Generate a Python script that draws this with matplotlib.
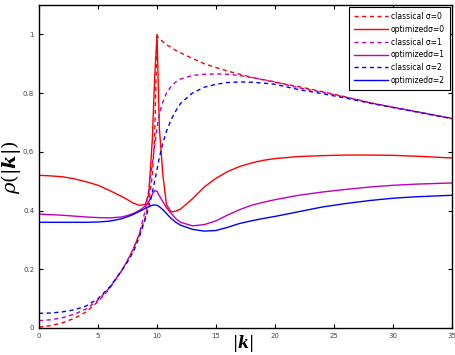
import matplotlib
matplotlib.use('Agg')
import matplotlib.pyplot as plt
from matplotlib.ticker import FormatStrFormatter

plt.rcParams['mathtext.fontset'] = 'dejavuserif'

# |k| sample points shared by all curves
k = [0, 1, 2, 3, 4, 5, 6, 7, 7.5, 8, 8.5, 9, 9.3, 9.6, 9.8, 10, 10.2, 10.5,
     10.8, 11.2, 11.6, 12, 13, 14, 15, 16, 17, 18, 19, 20, 22, 24, 26, 28,
     30, 32, 35]

classical_s0 = [0.003, 0.008, 0.018, 0.033, 0.055, 0.09, 0.135, 0.195, 0.23,
                0.27, 0.32, 0.375, 0.43, 0.52, 0.65, 0.995, 0.985, 0.975,
                0.965, 0.955, 0.945, 0.937, 0.918, 0.90, 0.887, 0.875, 0.864,
                0.854, 0.845, 0.837, 0.822, 0.805, 0.787, 0.768, 0.752, 0.737,
                0.714]
optimized_s0 = [0.52, 0.518, 0.515, 0.508, 0.498, 0.486, 0.468, 0.448, 0.437,
                0.425, 0.418, 0.42, 0.455, 0.64, 0.85, 1.0, 0.68, 0.52, 0.42,
                0.395, 0.398, 0.405, 0.44, 0.48, 0.51, 0.533, 0.55, 0.562,
                0.571, 0.577, 0.584, 0.587, 0.589, 0.589, 0.588, 0.585, 0.579]
classical_s1 = [0.025, 0.028, 0.035, 0.047, 0.065, 0.095, 0.138, 0.195, 0.23,
                0.27, 0.32, 0.40, 0.47, 0.56, 0.62, 0.68, 0.73, 0.77, 0.80,
                0.823, 0.838, 0.848, 0.86, 0.864, 0.865, 0.864, 0.86, 0.853,
                0.846, 0.838, 0.818, 0.803, 0.786, 0.767, 0.751, 0.736, 0.713]
optimized_s1 = [0.388, 0.386, 0.384, 0.381, 0.378, 0.376, 0.375, 0.378, 0.383,
                0.39, 0.40, 0.415, 0.43, 0.455, 0.468, 0.465, 0.45, 0.43, 0.41,
                0.39, 0.372, 0.36, 0.348, 0.352, 0.365, 0.385, 0.403, 0.418,
                0.428, 0.437, 0.452, 0.463, 0.472, 0.48, 0.486, 0.49, 0.494]
classical_s2 = [0.05, 0.051, 0.055, 0.062, 0.075, 0.1, 0.14, 0.195, 0.225,
                0.26, 0.31, 0.37, 0.41, 0.46, 0.50, 0.54, 0.58, 0.63, 0.67,
                0.71, 0.74, 0.765, 0.80, 0.82, 0.83, 0.836, 0.838, 0.837,
                0.834, 0.83, 0.812, 0.798, 0.783, 0.766, 0.751, 0.736, 0.713]
optimized_s2 = [0.36, 0.36, 0.36, 0.36, 0.36, 0.361, 0.364, 0.372, 0.379,
                0.387, 0.397, 0.407, 0.413, 0.418, 0.419, 0.418, 0.413, 0.403,
                0.39, 0.373, 0.36, 0.35, 0.336, 0.33, 0.332, 0.343, 0.356,
                0.365, 0.373, 0.38, 0.396, 0.412, 0.424, 0.434, 0.442, 0.447,
                0.452]

series = [
    (classical_s0, 'r', '--', 'classical σ=0'),
    (optimized_s0, 'r', '-', 'optimizedσ=0'),
    (classical_s1, 'm', '--', 'classical σ=1'),
    (optimized_s1, 'm', '-', 'optimizedσ=1'),
    (classical_s2, 'b', '--', 'classical σ=2'),
    (optimized_s2, 'b', '-', 'optimizedσ=2'),
]

fig = plt.figure(figsize=(4.55, 3.55), dpi=100)
ax = fig.add_axes([39 / 455, 27 / 355, 413 / 455, 323 / 355])

for vals, color, ls, label in series:
    ax.plot(k, vals, color=color, linestyle=ls, linewidth=1.0, label=label,
            dashes=(3, 2.5) if ls == '--' else (None, None))

ax.set_xlim(0, 35)
ax.set_ylim(0, 1.1)
ax.set_xticks(range(0, 36, 5))
ax.set_yticks([0, 0.2, 0.4, 0.6, 0.8, 1.0])
ax.yaxis.set_major_formatter(FormatStrFormatter('%g'))
ax.tick_params(direction='in', top=True, right=True, labelsize=5,
               labelcolor='#444444', length=3, width=0.8)
for sp in ax.spines.values():
    sp.set_linewidth(1.0)

# axis labels placed by hand, like the MATLAB original
fig.text(243 / 455, 1 - 333 / 355, r'$|\boldsymbol{k}|$', fontsize=11.5,
         ha='center', va='top')
fig.text(11 / 455, 1 - 167 / 355, r'$\rho(|\boldsymbol{k}|)$', fontsize=14,
         ha='center', va='center', rotation=90)

leg = ax.legend(loc='upper right', fontsize=5.5, handlelength=4.5,
                labelspacing=0.5, borderpad=0.6, handletextpad=0.4,
                fancybox=False, framealpha=1, edgecolor='black',
                borderaxespad=0.3)
leg.get_frame().set_linewidth(0.8)

fig.savefig('out.png', dpi=100)
